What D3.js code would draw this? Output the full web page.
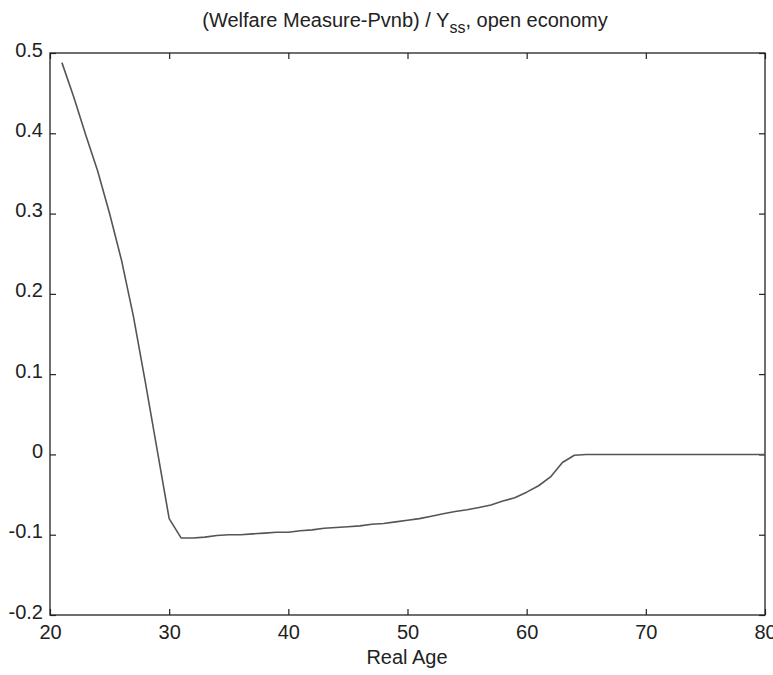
<!DOCTYPE html>
<html>
<head>
<meta charset="utf-8">
<script src="https://cdn.jsdelivr.net/npm/d3@7"></script>
<style>
  html, body { margin: 0; padding: 0; background: #fff; }
  svg { display: block; font-family: "Liberation Sans", Arial, sans-serif; }
</style>
</head>
<body>
<svg id="chart" width="773" height="675"></svg>
<script>
// Welfare measure relative to steady-state output, by real age
const ages = [21, 22, 23, 24, 25, 26, 27, 28, 29, 30, 31, 32, 33, 34, 35, 36, 37, 38, 39, 40,
              41, 42, 43, 44, 45, 46, 47, 48, 49, 50, 51, 52, 53, 54, 55, 56, 57, 58, 59, 60,
              61, 62, 63, 64, 65, 66, 67, 68, 69, 70, 71, 72, 73, 74, 75, 76, 77, 78, 79, 80];
const welfare = [0.488, 0.445, 0.398, 0.353, 0.300, 0.242, 0.172, 0.090, 0.005, -0.080,
                 -0.104, -0.104, -0.103, -0.101, -0.100, -0.100, -0.099, -0.098, -0.097, -0.097,
                 -0.095, -0.094, -0.092, -0.091, -0.090, -0.089, -0.087, -0.086, -0.084, -0.082,
                 -0.080, -0.077, -0.074, -0.071, -0.069, -0.066, -0.063, -0.058, -0.054, -0.047,
                 -0.039, -0.028, -0.010, -0.001, 0, 0, 0, 0, 0, 0,
                 0, 0, 0, 0, 0, 0, 0, 0, 0, 0];
const xTicks = [20, 30, 40, 50, 60, 70, 80];
const yTicks = [-0.2, -0.1, 0, 0.1, 0.2, 0.3, 0.4, 0.5];
const yTickLabels = ["-0.2", "-0.1", "0", "0.1", "0.2", "0.3", "0.4", "0.5"];

const svg = d3.select("#chart");
const plotL = 50, plotR = 765, plotT = 53, plotB = 615;

const x = d3.scaleLinear().domain([20, 80]).range([plotL, plotR]);
const y = d3.scaleLinear().domain([-0.2, 0.5]).range([plotB, plotT]);

const axisColor = "#222";
const tickLen = 6;

// Inward-pointing ticks on all four sides of the box
svg.append("g").attr("class", "xb").attr("transform", `translate(0,${plotB})`)
  .call(d3.axisBottom(x).tickValues(xTicks).tickSizeInner(-tickLen).tickSizeOuter(0).tickPadding(10).tickFormat(d3.format("d")))
  .call(g => g.select(".domain").remove());
svg.append("g").attr("transform", `translate(0,${plotT})`)
  .call(d3.axisTop(x).tickValues(xTicks).tickSizeInner(-tickLen).tickSizeOuter(0).tickFormat(""))
  .call(g => g.select(".domain").remove());
svg.append("g").attr("class", "yl").attr("transform", `translate(${plotL},0)`)
  .call(d3.axisLeft(y).tickValues(yTicks).tickSizeInner(-tickLen).tickSizeOuter(0).tickPadding(7)
        .tickFormat((d, i) => yTickLabels[i]))
  .call(g => g.select(".domain").remove());
svg.append("g").attr("transform", `translate(${plotR},0)`)
  .call(d3.axisRight(y).tickValues(yTicks).tickSizeInner(-tickLen).tickSizeOuter(0).tickFormat(""))
  .call(g => g.select(".domain").remove());

svg.selectAll(".tick line").attr("stroke", axisColor).attr("stroke-width", 1.2);
svg.selectAll(".tick text").attr("fill", "#222").style("font-size", "20px")
  .style("font-family", "\"Liberation Sans\", Arial, sans-serif");
svg.selectAll(".yl .tick text").attr("dy", "0.15em");

// Box frame
svg.append("rect")
  .attr("x", plotL).attr("y", plotT)
  .attr("width", plotR - plotL).attr("height", plotB - plotT)
  .attr("fill", "none").attr("stroke", axisColor).attr("stroke-width", 1.3);

// Data line
const line = d3.line().x((d, i) => x(ages[i])).y(d => y(d));
svg.append("path")
  .datum(welfare)
  .attr("d", line)
  .attr("fill", "none")
  .attr("stroke", "#555")
  .attr("stroke-width", 1.6)
  .attr("stroke-linejoin", "round");

// Title with subscript
const title = svg.append("text")
  .attr("x", 405).attr("y", 27)
  .attr("text-anchor", "middle")
  .attr("fill", "#222")
  .style("font-size", "20px");
title.append("tspan").text("(Welfare Measure-Pvnb) / Y");
title.append("tspan").attr("dy", 6).style("font-size", "16px").text("ss");
title.append("tspan").attr("dy", -6).text(", open economy");

// X-axis label
svg.append("text")
  .attr("x", 407).attr("y", 664)
  .attr("text-anchor", "middle")
  .attr("fill", "#222")
  .style("font-size", "20px")
  .text("Real Age");
</script>
</body>
</html>
